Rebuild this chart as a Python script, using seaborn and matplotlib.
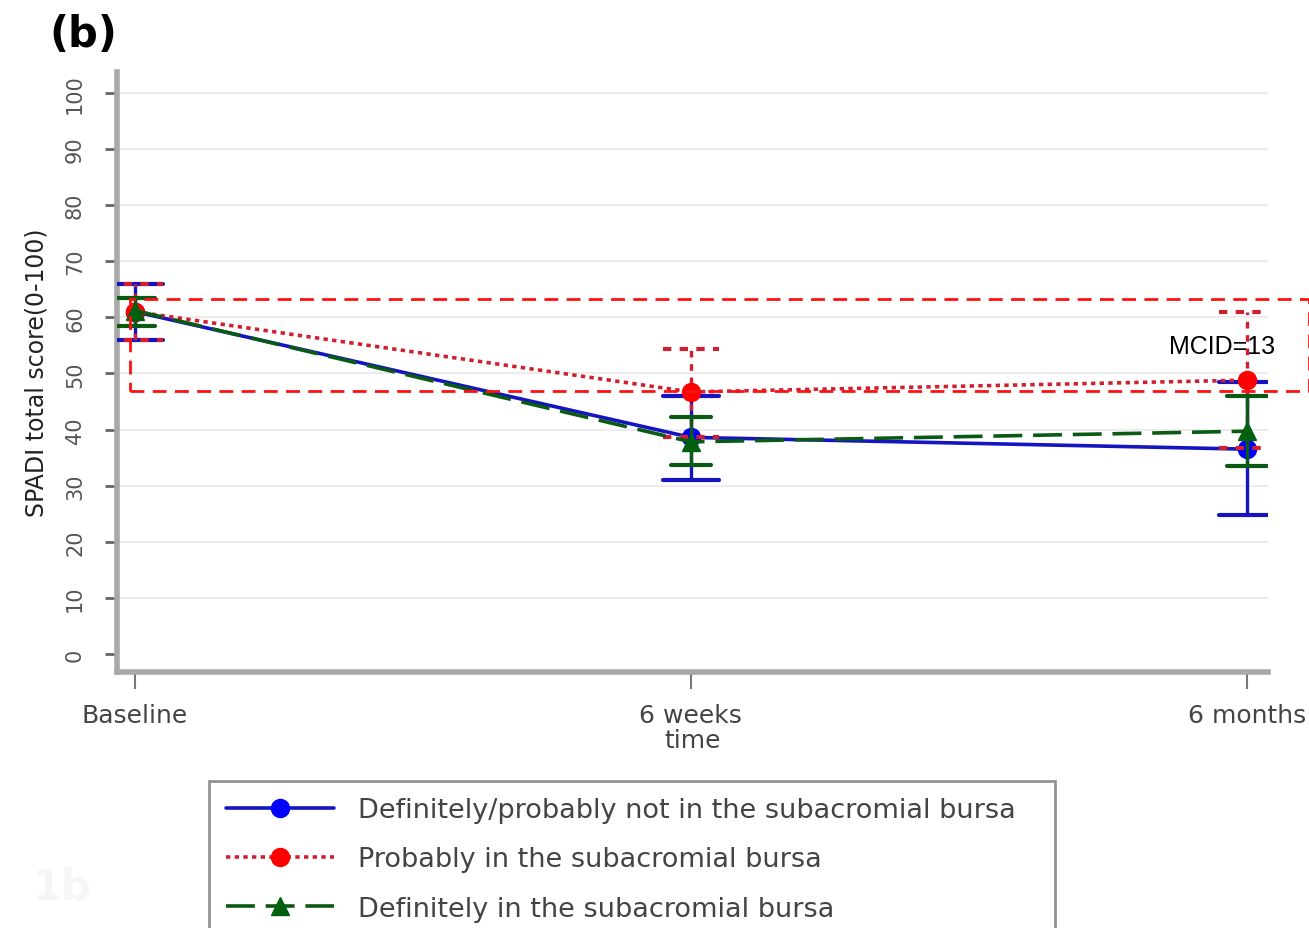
import matplotlib
matplotlib.use("Agg")
import matplotlib.pyplot as plt
from matplotlib.lines import Line2D
from matplotlib.patches import Rectangle
import seaborn as sns
import pandas as pd
import numpy as np

# ---- data ----
times = ["Baseline", "6 weeks", "6 months"]
series_names = [
    "Definitely/probably not in the subacromial bursa",
    "Probably in the subacromial bursa",
    "Definitely in the subacromial bursa",
]
not_mean = [61.0, 38.6, 36.5]
not_lo = [56.0, 31.0, 24.8]
not_hi = [66.0, 46.0, 48.5]
prob_mean = [61.0, 46.7, 48.8]
prob_lo = [56.0, 38.7, 36.7]
prob_hi = [66.0, 54.4, 61.0]
def_mean = [61.2, 37.8, 39.7]
def_lo = [58.5, 33.7, 33.5]
def_hi = [63.5, 42.2, 46.0]
y_ticks = [0, 10, 20, 30, 40, 50, 60, 70, 80, 90, 100]
mcid_box = [46.8, 63.3]   # lower / upper edge of the annotation box
mcid_label = "MCID=13"

sns.set_theme(style="white")
plt.rcParams["font.family"] = ["DejaVu Sans"]

fig = plt.figure(figsize=(13.09, 9.29), dpi=100)
ax = fig.add_axes([0.0894, 0.2756, 0.8793, 0.6458])

x = np.arange(len(times))
df = pd.DataFrame({
    "time": np.tile(x, 3),
    "score": not_mean + prob_mean + def_mean,
    "group": np.repeat(series_names, 3),
})

styles = {
    series_names[0]: dict(color="#1414c0", mcolor="#0000ff", ls="-", marker="o", cap=0.05, els="-", z=3),
    series_names[1]: dict(color="#d02030", mcolor="#ff0000", ls=(0, (1.2, 1.2)), marker="o", cap=0.05, els=(0, (2, 2)), z=4),
    series_names[2]: dict(color="#0a5a14", mcolor="#006010", ls=(0, (8, 3)), marker="^", cap=0.036, els="-", z=5),
}
los = [not_lo, prob_lo, def_lo]
his = [not_hi, prob_hi, def_hi]
means = [not_mean, prob_mean, def_mean]

for i, name in enumerate(series_names):
    st = styles[name]
    sub = df[df["group"] == name]
    sns.lineplot(data=sub, x="time", y="score", ax=ax, color=st["color"],
                 linewidth=2.6, legend=False, zorder=st["z"])
    ax.lines[-1].set_linestyle(st["ls"])
    # error bars
    for xi, lo, hi in zip(x, los[i], his[i]):
        ax.plot([xi, xi], [lo, hi], color=st["color"], lw=2.4, ls=st["els"], zorder=st["z"])
        for yv in (lo, hi):
            ax.plot([xi - st["cap"], xi + st["cap"]], [yv, yv], color=st["color"],
                    lw=3.0, ls=st["els"], zorder=st["z"])
    ax.plot(x, means[i], ls="none", marker=st["marker"], markersize=13,
            color=st["mcolor"], markeredgecolor=st["mcolor"], zorder=st["z"] + 0.5)

ax.set_xlim(-0.032, 2.038)
ax.set_ylim(-3.2, 103.7)
ax.set_yticks(y_ticks)
ax.set_yticklabels([str(t) for t in y_ticks], rotation=90, va="center",
                   fontsize=15, color="#555555")
ax.set_xticks(x)
ax.set_xticklabels(times, fontsize=18, color="#444444")
for yt in y_ticks[1:]:
    ax.axhline(yt, color="#ececec", lw=1.5, zorder=0)
ax.tick_params(axis="y", direction="out", length=9, width=2, color="#666666", pad=14, left=True)
ax.tick_params(axis="x", direction="out", length=12, width=1.5, color="#777777", pad=10, bottom=True)
for s in ["top", "right"]:
    ax.spines[s].set_visible(False)
for s in ["left", "bottom"]:
    ax.spines[s].set_color("#a8a8a8")
    ax.spines[s].set_linewidth(4)
ax.set_ylabel("SPADI total score(0-100)", fontsize=17, color="#222222", labelpad=12)
ax.set_xlabel("time", fontsize=18, color="#444444", labelpad=1)

# MCID annotation box
rect = Rectangle((-0.008, mcid_box[0]), 2.12, mcid_box[1] - mcid_box[0], fill=False,
                 edgecolor="#ff1010", lw=2, ls=(0, (5, 3)), clip_on=False, zorder=6)
ax.add_patch(rect)
ax.text(1.955, 54.8, mcid_label, fontsize=18, color="black", ha="center", va="center",
        family=["Liberation Sans", "DejaVu Sans"], zorder=7)

fig.text(0.038, 0.962, "(b)", fontsize=30, fontweight="bold", color="black", ha="left", va="center")
fig.text(0.025, 0.045, "1b", fontsize=30, fontweight="bold", color="#f6f6f6", ha="left", va="center")

handles = [
    Line2D([], [], color=styles[n]["color"], ls=styles[n]["ls"], lw=2.6,
           marker=styles[n]["marker"], markersize=13,
           markerfacecolor=styles[n]["mcolor"], markeredgecolor=styles[n]["mcolor"])
    for n in series_names
]
leg = fig.legend(handles, series_names, loc="upper left",
                 bbox_to_anchor=(0.160, 0.148, 0.646, 0.01), mode="expand",
                 fontsize=19.5, frameon=True, fancybox=False, handlelength=4.0,
                 handletextpad=0.9, labelspacing=0.85, borderpad=0.6, borderaxespad=0)
leg.get_frame().set_edgecolor("#777777")
leg.get_frame().set_linewidth(2)
for t in leg.get_texts():
    t.set_color("#444444")

fig.savefig("out.png", dpi=100)
